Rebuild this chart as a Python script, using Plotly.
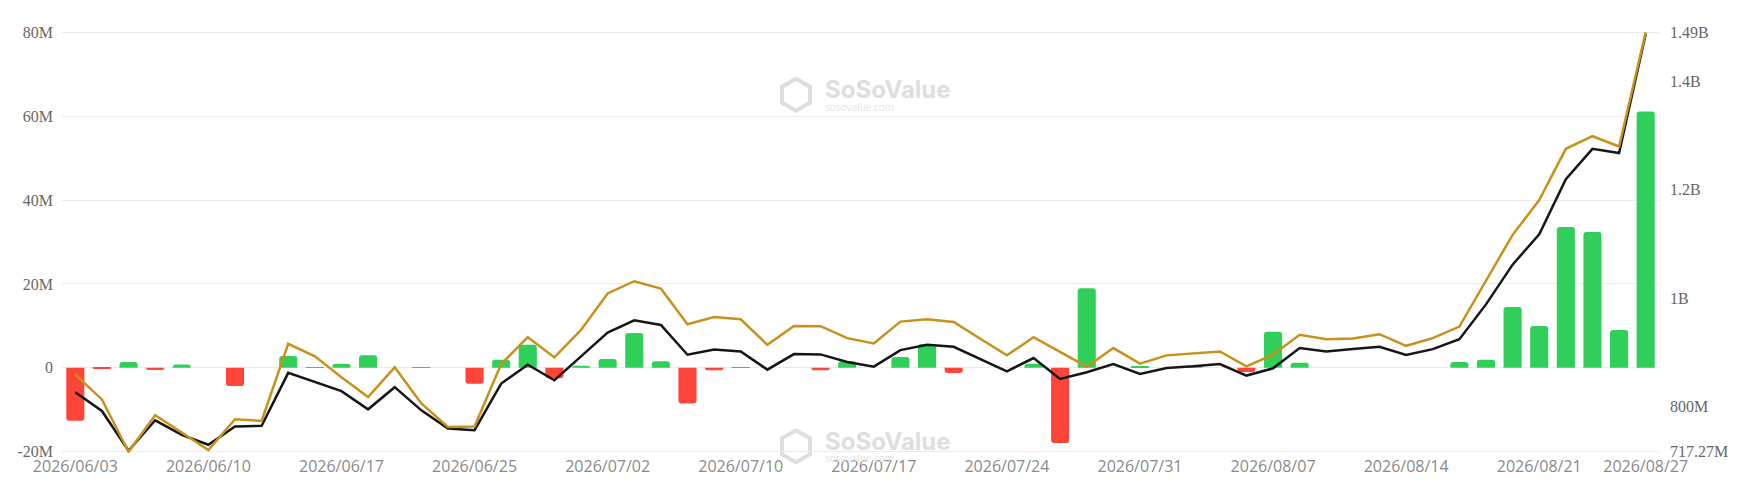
import plotly.graph_objects as go

# trading days shown on the x axis
dates = [
    "2026/06/03", "2026/06/04", "2026/06/05", "2026/06/08", "2026/06/09",
    "2026/06/10", "2026/06/11", "2026/06/12", "2026/06/15", "2026/06/16",
    "2026/06/17", "2026/06/18", "2026/06/22", "2026/06/23", "2026/06/24",
    "2026/06/25", "2026/06/26", "2026/06/29", "2026/06/30", "2026/07/01",
    "2026/07/02", "2026/07/06", "2026/07/07", "2026/07/08", "2026/07/09",
    "2026/07/10", "2026/07/13", "2026/07/14", "2026/07/15", "2026/07/16",
    "2026/07/17", "2026/07/20", "2026/07/21", "2026/07/22", "2026/07/23",
    "2026/07/24", "2026/07/27", "2026/07/28", "2026/07/29", "2026/07/30",
    "2026/07/31", "2026/08/03", "2026/08/04", "2026/08/05", "2026/08/06",
    "2026/08/07", "2026/08/10", "2026/08/11", "2026/08/12", "2026/08/13",
    "2026/08/14", "2026/08/17", "2026/08/18", "2026/08/19", "2026/08/20",
    "2026/08/21", "2026/08/24", "2026/08/25", "2026/08/26", "2026/08/27",
]

# daily net inflow, millions (left axis)
net_inflow = [
    -12.6, -0.3, 1.4, -0.5, 0.8, 0, -4.3, 0, 2.8, 0.2,
    1.0, 3.0, 0, 0.1, 0, -3.8, 1.9, 5.5, -2.5, 0.5,
    2.1, 8.3, 1.6, -8.5, -0.55, 0.15, 0, 0, -0.6, 1.6,
    0, 2.6, 5.7, -1.2, 0, 0, 1.0, -17.9, 19.0, 0,
    0.3, 0, 0.5, 0, -1.0, 8.6, 1.2, 0, 0, 0,
    0, 0, 1.4, 1.9, 14.5, 10.0, 33.6, 32.4, 9.0, 61.1,
]

# gold line, millions (right axis)
total_value = [
    859.4, 813.7, 717.27, 784.4, 752.7, 720.3, 777.1, 774.0, 916.1, 893.0,
    854.5, 818.0, 872.8, 806.3, 763.0, 763.6, 878.9, 928.3, 891.1, 941.7,
    1008.8, 1031.4, 1018.0, 952.1, 965.5, 961.3, 914.3, 949.1, 948.5, 926.5,
    916.8, 957.0, 961.3, 956.4, 925.3, 894.8, 928.3, 900.9, 874.0, 908.2,
    879.5, 894.8, 897.8, 902.1, 874.7, 896.0, 932.6, 924.6, 925.9, 933.8,
    912.4, 926.5, 947.8, 1031.4, 1116.8, 1180.8, 1275.3, 1298.5, 1279.6, 1490.0,
]

# black line, millions (right axis)
net_assets = [
    827.0, 792.3, 719.1, 775.2, 748.4, 730.1, 763.6, 764.9, 862.5, 846.0,
    828.9, 795.4, 836.2, 793.5, 760.0, 757.0, 842.9, 877.7, 849.0, 892.9,
    936.9, 959.4, 950.9, 896.0, 905.8, 902.1, 868.5, 897.2, 896.6, 882.6,
    874.0, 904.5, 914.3, 910.6, 888.1, 865.5, 889.9, 851.5, 863.7, 878.9,
    860.6, 871.6, 874.7, 878.9, 857.6, 871.0, 908.2, 902.1, 906.3, 910.6,
    895.4, 906.3, 924.6, 988.7, 1061.9, 1118.0, 1219.2, 1275.3, 1267.4, 1487.0,
]

left_ticks = [-20, 0, 20, 40, 60, 80]
left_labels = ["-20M", "0", "20M", "40M", "60M", "80M"]
right_ticks = [717.27, 800, 1000, 1200, 1400, 1490]
right_labels = ["717.27M", "800M", "1B", "1.2B", "1.4B", "1.49B"]

tick_dates = dates[::5] + [dates[-1]]

GREEN = "#30cf5a"
RED = "#ff443a"
bar_colors = [GREEN if v >= 0 else RED for v in net_inflow]

# tiny padding so the edge gridlines (80M / -20M) get drawn
pad = 0.003
l_lo, l_hi = -20, 80
r_lo, r_hi = 717.27, 1490
l_span = l_hi - l_lo
r_span = r_hi - r_lo

fig = go.Figure()

fig.add_trace(go.Bar(
    x=dates, y=net_inflow,
    marker=dict(color=bar_colors, line=dict(width=0)),
    name="Daily Net Inflow",
))

fig.add_trace(go.Scatter(
    x=dates, y=net_assets, yaxis="y2", mode="lines",
    line=dict(color="#161616", width=2.5),
    name="Net Assets",
))

fig.add_trace(go.Scatter(
    x=dates, y=total_value, yaxis="y2", mode="lines",
    line=dict(color="#c8911c", width=2.5),
    name="Total Value",
))

tick_font = dict(family="Liberation Serif", size=16, color="#666666")

fig.update_layout(
    width=1744, height=489,
    margin=dict(l=62, r=85, t=31, b=33),
    paper_bgcolor="white", plot_bgcolor="white",
    showlegend=False,
    bargap=0.32,
    barcornerradius=3,
    xaxis=dict(
        type="category",
        tickmode="array", tickvals=tick_dates, ticktext=tick_dates,
        showgrid=False, showline=False, ticks="",
        tickfont=dict(family="Open Sans", size=16, color="#8a8a8a"),
        ticklabelstandoff=2,
    ),
    yaxis=dict(
        range=[l_lo - pad * l_span, l_hi + pad * l_span],
        tickmode="array", tickvals=left_ticks, ticktext=left_labels,
        showgrid=True, gridcolor="#ebebeb", gridwidth=1,
        zeroline=True, zerolinecolor="#ebebeb", zerolinewidth=1,
        showline=False, ticks="",
        tickfont=tick_font, ticklabelstandoff=8,
    ),
    yaxis2=dict(
        overlaying="y", side="right",
        range=[r_lo - pad * r_span, r_hi + pad * r_span],
        tickmode="array", tickvals=right_ticks, ticktext=right_labels,
        showgrid=False, zeroline=False, showline=False, ticks="",
        tickfont=tick_font, ticklabelstandoff=10,
    ),
)

# SoSoValue watermarks (top and bottom)
hexagon = "M 0 16 L 14 8 L 14 -8 L 0 -16 L -14 -8 L -14 8 Z"
for ty, sy, ly in [(0.861, 0.820, 0.849), (0.028, -0.012, 0.016)]:
    fig.add_annotation(
        x=0.4765, y=ty, xref="paper", yref="paper", xanchor="left", yanchor="middle",
        text="<b>SoSoValue</b>", showarrow=False,
        font=dict(family="Inter", size=24, color="#dedede"),
    )
    fig.add_annotation(
        x=0.4765, y=sy, xref="paper", yref="paper", xanchor="left", yanchor="middle",
        text="sosovalue.com", showarrow=False,
        font=dict(family="Open Sans", size=10, color="#e3e3e3"),
    )
    fig.add_shape(
        type="path", path=hexagon, xref="paper", yref="paper",
        xsizemode="pixel", ysizemode="pixel", xanchor=0.4596, yanchor=ly,
        line=dict(color="#dedede", width=4), fillcolor="rgba(0,0,0,0)",
        layer="below",
    )

fig.write_html("out.html", config={"displayModeBar": False},
               post_script="document.body.style.margin='0';")
